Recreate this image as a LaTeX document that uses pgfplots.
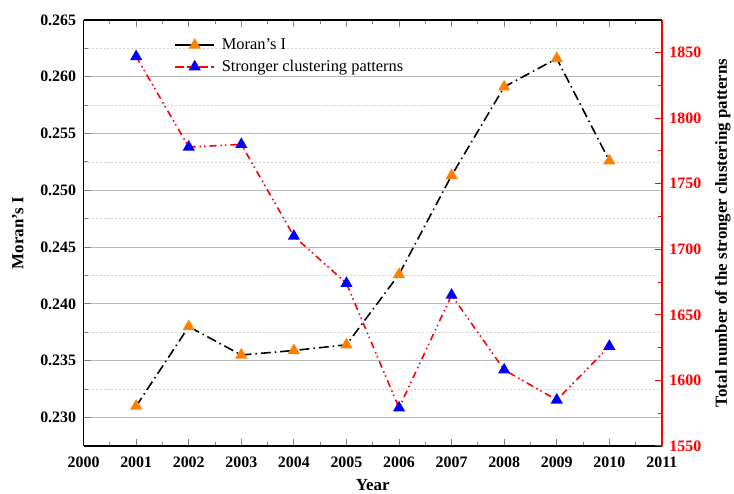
\documentclass[border=0pt]{standalone}
\usepackage{pgfplots}
\pgfplotsset{compat=1.18}
\usepackage{fontspec}
\setmainfont{Liberation Serif}
\definecolor{morange}{RGB}{255,128,0}
\definecolor{gridmaj}{RGB}{185,185,185}
\definecolor{gridmin}{RGB}{210,210,210}
\begin{document}
\begin{tikzpicture}
\pgfplotsset{
  every axis/.append style={
    width=581pt, height=428pt, scale only axis,
    xmin=2000, xmax=2011,
    xtick={2000,2001,2002,2003,2004,2005,2006,2007,2008,2009,2010,2011},
    minor x tick num=1,
    tick label style={font=\fontsize{16}{19}\selectfont\bfseries},
    /pgf/number format/assume math mode=true,
    label style={font=\fontsize{17}{20}\selectfont\bfseries},
    major tick length=7pt, minor tick length=4pt,
    tick style={line width=1pt},
    axis line style={line width=1.3pt},
    tick align=inside,
  }
}
\begin{axis}[
  name=ax1,
  axis y line*=left,
  ymin=0.2275, ymax=0.265,
  ytick={0.230,0.235,0.240,0.245,0.250,0.255,0.260,0.265},
  minor y tick num=1,
  scaled y ticks=false,
  yticklabel style={/pgf/number format/.cd, fixed, fixed zerofill, precision=3, /tikz/.cd, xshift=-4pt},
  xticklabel style={/pgf/number format/.cd, 1000 sep={}, /tikz/.cd, yshift=-8pt},
  ymajorgrids, yminorgrids,
  major grid style={gridmaj, line width=0.9pt},
  minor grid style={gridmin, dash pattern=on 2pt off 2pt, line width=0.6pt},
  xlabel={Year},
  xlabel style={yshift=-4pt},
  ylabel={Moran's I},
  ylabel style={yshift=10pt},
]
\addplot[black, line width=1.6pt, dash pattern=on 10pt off 4pt on 1.5pt off 4pt,
  mark=triangle*, mark size=5.5pt, mark options={morange, fill=morange, solid}]
  coordinates {
  (2001,0.2310) (2002,0.2380) (2003,0.2355) (2004,0.2359) (2005,0.2364)
  (2006,0.2426) (2007,0.2513) (2008,0.2591) (2009,0.2616) (2010,0.2526)
  };
\end{axis}
\begin{axis}[
  axis y line*=right, axis x line=none,
  ymin=1550, ymax=1875,
  ytick={1550,1600,1650,1700,1750,1800,1850},
  minor y tick num=1,
  y axis line style={red, line width=1.3pt},
  ytick style={red, line width=1pt},
  yticklabel style={red, /pgf/number format/.cd, 1000 sep={}, /tikz/.cd, xshift=4pt},
  ylabel={Total number of the stronger clustering patterns},
  ylabel style={yshift=-7pt},
  legend style={draw=none, fill=none, at={(0.152,0.965)}, anchor=north west,
    font=\fontsize{16.5}{19}\selectfont, row sep=5pt,
    /tikz/every odd column/.append style={column sep=5pt}},
  legend cell align=left,
  legend image code/.code={%
    \draw[mark repeat=2, mark phase=2, #1] plot coordinates {(0cm,0cm) (0.68cm,0cm) (1.36cm,0cm)};},
]
\addlegendimage{black, line width=1.6pt, solid, mark=triangle*, mark size=5.5pt, mark options={morange, fill=morange, solid}}
\addlegendentry{Moran's I}
\addlegendimage{red, line width=1.6pt, dash pattern=on 9pt off 3pt, mark=triangle*, mark size=5.5pt, mark options={blue, fill=blue, solid}}
\addlegendentry{Stronger clustering patterns}
\addplot[forget plot, red, line width=1.6pt, dash pattern=on 7pt off 4pt on 1.5pt off 3pt on 1.5pt off 4pt,
  mark=triangle*, mark size=5.5pt, mark options={blue, fill=blue, solid}]
  coordinates {
  (2001,1847) (2002,1778) (2003,1780) (2004,1710) (2005,1674)
  (2006,1579) (2007,1665) (2008,1608) (2009,1585) (2010,1626)
  };
\end{axis}
\path (ax1.north west) ++(0,20pt);
\path (ax1.south west) ++(-84pt,0);
\end{tikzpicture}
\end{document}
